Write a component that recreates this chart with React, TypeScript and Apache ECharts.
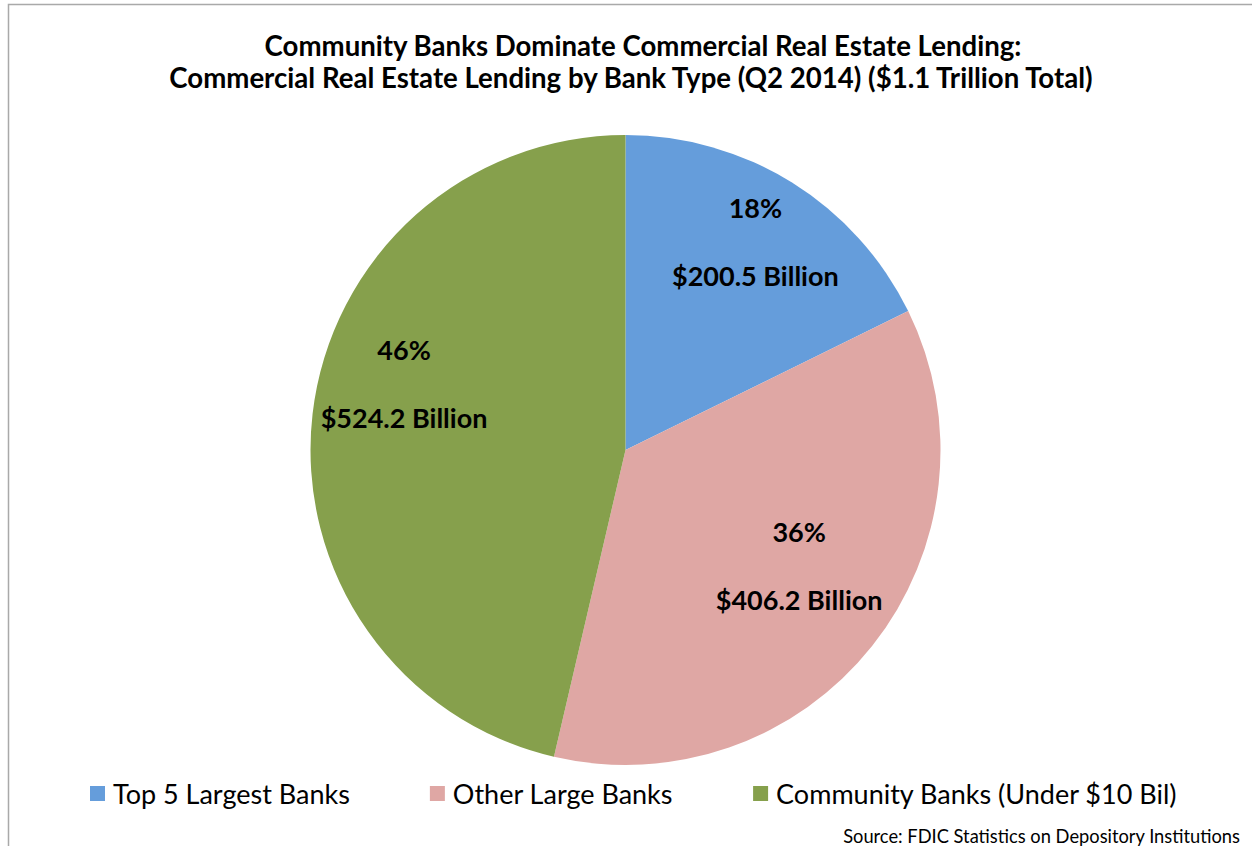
import React, { useEffect, useRef } from "react";
import * as echarts from "echarts";

const categories = ["Top 5 Largest Banks", "Other Large Banks", "Community Banks (Under $10 Bil)"];
const valuesBillion = [200.5, 406.2, 524.2];
const colors = ["#659ddb", "#dfa7a4", "#86a04c"];
const labelOffsets = [
  [45, -72],
  [48, 16],
  [-62, -48],
];
const titleLines = [
  "Community Banks Dominate Commercial Real Estate Lending:",
  "Commercial Real Estate Lending by Bank Type (Q2 2014) ($1.1 Trillion Total)",
];
const sourceText = "Source: FDIC Statistics on Depository Institutions";

export default function App() {
  const ref = useRef<HTMLDivElement>(null);
  useEffect(() => {
    if (!ref.current) return;
    const chart = echarts.init(ref.current, undefined, { renderer: "svg" });
    const font = "Lato, 'Open Sans', sans-serif";
    chart.setOption({
      animation: false,
      backgroundColor: "#ffffff",
      graphic: [
        {
          type: "polyline",
          shape: { points: [[8.5, 846], [8.5, 4.5], [1252, 4.5]] },
          style: { stroke: "#a9a9a9", lineWidth: 1.5, fill: "none" },
        },
        {
          type: "text",
          x: 643,
          y: 45,
          style: {
            text: titleLines[0],
            font: `bold 27.6px ${font}`,
            fill: "#000",
            textAlign: "center",
            textVerticalAlign: "middle",
          },
        },
        {
          type: "text",
          x: 631,
          y: 77,
          style: {
            text: titleLines[1],
            font: `bold 27.6px ${font}`,
            fill: "#000",
            textAlign: "center",
            textVerticalAlign: "middle",
          },
        },
        {
          type: "text",
          x: 1240,
          y: 836,
          style: {
            text: sourceText,
            font: `18.3px ${font}`,
            fill: "#000",
            textAlign: "right",
            textVerticalAlign: "middle",
          },
        },
      ],
      legend: {
        left: 90,
        top: 780,
        padding: 0,
        orient: "horizontal",
        itemWidth: 15,
        itemHeight: 15,
        itemGap: 80,
        icon: "rect",
        textStyle: { fontFamily: font, fontSize: 27, color: "#000", padding: [0, 0, 0, 3] },
        data: categories,
      },
      series: [
        {
          type: "pie",
          center: [625.5, 450],
          radius: [0, 315],
          startAngle: 90,
          clockwise: true,
          percentPrecision: 0,
          emphasis: { disabled: true },
          label: {
            show: true,
            position: "inside",
            formatter: (p: any) => `${Math.round(p.percent)}%\n\n$${p.value} Billion`,
            fontFamily: font,
            fontWeight: "bold",
            fontSize: 27,
            lineHeight: 34,
            color: "#000",
          },
          labelLayout: (p: any) => ({
            dx: labelOffsets[p.dataIndex][0],
            dy: labelOffsets[p.dataIndex][1],
          }),
          labelLine: { show: false },
          data: categories.map((name, i) => ({
            name,
            value: valuesBillion[i],
            itemStyle: { color: colors[i] },
          })),
        },
      ],
    });
    return () => chart.dispose();
  }, []);
  return (
    <div
      ref={ref}
      style={{ position: "absolute", left: 0, top: 0, width: 1252, height: 846 }}
    />
  );
}
